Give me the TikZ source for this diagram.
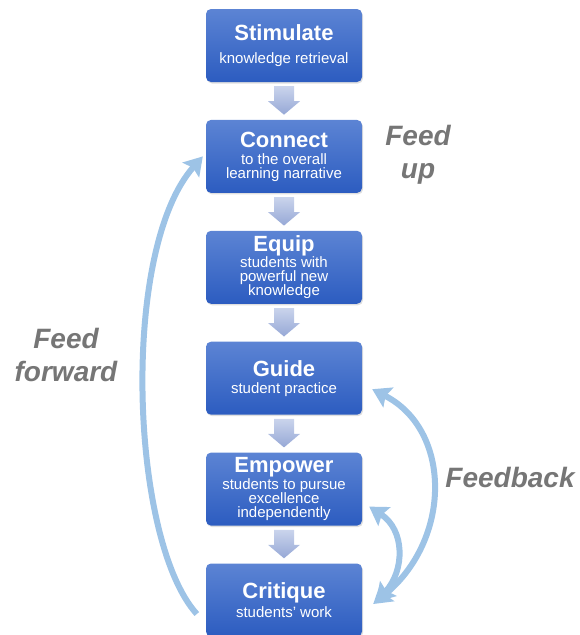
\documentclass[tikz,border=0pt]{standalone}
\usepackage{fontspec}
\setmainfont{Liberation Sans}
\usetikzlibrary{positioning,calc,shadows,arrows.meta}
\definecolor{boxtop}{RGB}{92,132,212}
\definecolor{boxbot}{RGB}{44,92,192}
\definecolor{arrtop}{RGB}{202,212,236}
\definecolor{arrbot}{RGB}{150,168,214}
\definecolor{feedblue}{RGB}{157,195,230}
\definecolor{feedgray}{RGB}{118,118,118}
\tikzset{
  stepbox/.style={rounded corners=5pt, top color=boxtop, bottom color=boxbot,
    minimum width=156pt, minimum height=73pt, inner sep=0pt, align=center,
    text=white, font=\fontsize{15}{14}\selectfont,
    drop shadow={opacity=0.25, shadow xshift=1pt, shadow yshift=-1.5pt}},
  blockarrow/.style={top color=arrtop, bottom color=arrbot, draw=none},
  feedline/.style={draw=feedblue, line width=6pt,
    arrows={-Stealth[length=18pt,width=22pt,inset=3pt]}},
  feedboth/.style={feedline, arrows={Stealth[length=18pt,width=22pt,inset=3pt]-Stealth[length=18pt,width=22pt,inset=3pt]}},
  feedlabel/.style={text=feedgray, align=center,
    font=\fontsize{28}{33}\selectfont\bfseries\itshape}
}
\newcommand{\steptitle}[1]{{\fontsize{22}{22}\selectfont\bfseries #1}}
\begin{document}
\begin{tikzpicture}[x=1pt,y=1pt]
\useasboundingbox (0,0) rectangle (580,-635);

\node[stepbox] (stim) at (284,-45.5) {\steptitle{Stimulate}\\[9pt]knowledge retrieval};
\node[stepbox, below=37.5pt of stim] (conn) {\steptitle{Connect}\\[3pt]to the overall\\learning narrative};
\node[stepbox, below=37.5pt of conn] (equip) {\steptitle{Equip}\\students with\\powerful new\\knowledge};
\node[stepbox, below=37.5pt of equip] (guide) {\steptitle{Guide}\\[3pt]student practice};
\node[stepbox, below=37.5pt of guide] (empower) {\steptitle{Empower}\\students to pursue\\excellence\\independently};
\node[stepbox, below=37.5pt of empower] (critique) {\steptitle{Critique}\\[3pt]students' work};

\foreach \a/\b in {stim/conn,conn/equip,equip/guide,guide/empower,empower/critique}
  \shade[blockarrow] ($(\a.south)+(-10,-4)$) -- ($(\a.south)+(10,-4)$) -- ($(\a.south)+(10,-19)$)
    -- ($(\a.south)+(16,-19)$) -- ($(\b.north)+(0,5)$) -- ($(\a.south)+(-16,-19)$)
    -- ($(\a.south)+(-10,-19)$) -- cycle;

\coordinate (ffstart) at ($(critique.west)+(-9,-14)$);
\coordinate (ffend) at ($(conn.west)+(-3,0)$);
\draw[feedline] (ffstart) .. controls (130,-540) and (120,-250) .. (ffend);

\coordinate (fbtop) at ($(guide.east)+(10,-11)$);
\coordinate (fbbot) at ($(critique.east)+(11,-4)$);
\draw[feedboth] (fbtop) .. controls (452,-430) and (452,-540) .. (fbbot);
\coordinate (fbmid) at ($(empower.east)+(7,-17.5)$);
\coordinate (fbbot2) at ($(critique.east)+(14,-2)$);
\draw[feedboth] (fbmid) .. controls (405,-530) and (405,-570) .. (fbbot2);

\node[feedlabel] (feedup) at (418,-155) {Feed\\up};
\node[feedlabel] (feedfwd) at (66,-355) {Feed\\forward};
\node[feedlabel, anchor=base] (feedback) at (510,-487) {Feedback};
\end{tikzpicture}
\end{document}
